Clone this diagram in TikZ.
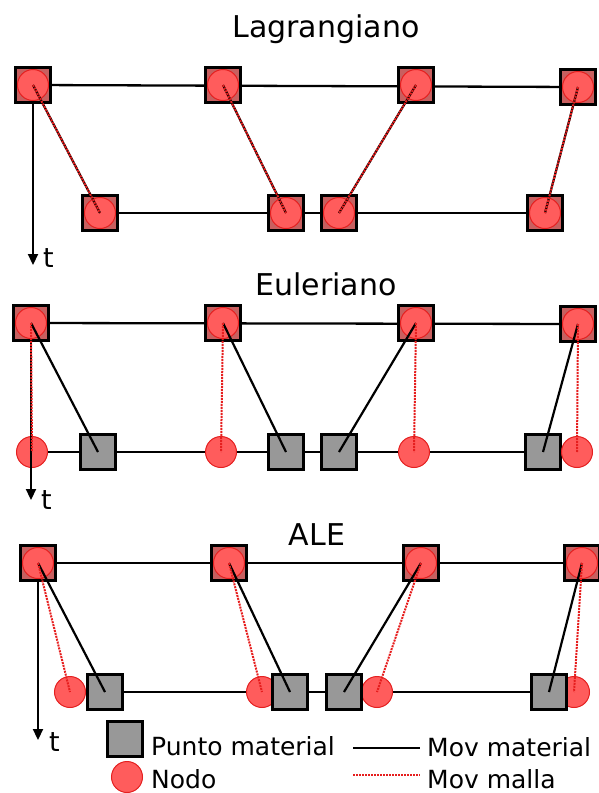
\documentclass[tikz,border=0pt]{standalone}
\usepackage{fontspec}
\setmainfont{DejaVu Sans}
\usetikzlibrary{arrows.meta,backgrounds}
\definecolor{nodefill}{RGB}{255,92,92}
\definecolor{nodeedge}{RGB}{228,32,32}
\definecolor{matfill}{RGB}{152,152,152}
\definecolor{cornerfill}{RGB}{200,95,95}
\definecolor{meshred}{RGB}{230,30,30}

\begin{document}
\begin{tikzpicture}[x=1pt,y=-1pt,
  matsq/.style={rectangle,draw=black,line width=2.4pt,fill=matfill,minimum size=35pt,inner sep=0pt},
  topsq/.style={matsq,fill=cornerfill},
  nodo/.style={circle,draw=nodeedge,line width=1pt,fill=nodefill,minimum size=31pt,inner sep=0pt},
  gridline/.style={line width=2.3pt,black},
  matline/.style={line width=2.2pt,black},
  meshline/.style={line width=2pt,meshred,densely dotted},
  timeax/.style={line width=2.2pt,-{Triangle[length=11pt,width=10pt]}},
  title/.style={font=\fontsize{30}{36}\selectfont,anchor=base,inner sep=0pt},
  tlabel/.style={font=\fontsize{27}{32}\selectfont,anchor=base west,inner sep=0pt},
  lbl/.style={font=\fontsize{25}{30}\selectfont,anchor=base west,inner sep=0pt}]

\useasboundingbox (0,0) rectangle (598,793);

% ---------------- Lagrangiano ----------------
\node[title] (tL) at (326,37) {Lagrangiano};

\foreach \n/\x/\y in {1/33/85,2/223/85,3/416/85,4/578/87,5/100/213,6/286/213,7/339/213,8/545/213}{
  \node[topsq] (Ls\n) at (\x,\y) {};
  \node[nodo] (Lc\n) at (\x,\y) {};
}
\begin{pgfonlayer}{background}
  \draw[gridline] (Ls1.center) -- (Ls4.center);
  \draw[gridline] (Ls5.center) -- (Ls8.center);
\end{pgfonlayer}
\foreach \a/\b in {1/5,2/6,3/7,4/8}{
  \draw[matline] (Lc\a.center) -- (Lc\b.center);
  \draw[meshline] (Lc\a.center) -- (Lc\b.center);
}
\coordinate (Lt) at (33,265);
\draw[timeax] (Ls1.south) -- (Lt);
\node[tlabel] (Ltl) at (43,267) {t};

% ---------------- Euleriano ----------------
\node[title] (tE) at (326,295) {Euleriano};

\foreach \n/\x/\y in {1/31/323,2/223/323,3/416/323,4/578/324}{
  \node[topsq] (Es\n) at (\x,\y) {};
  \node[nodo] (Ec\n) at (\x,\y) {};
}
\foreach \n/\x in {1/98,2/286,3/339,4/543}{
  \node[matsq] (Em\n) at (\x,452) {};
}
\foreach \n/\x in {1/32,2/221,3/414,4/577}{
  \node[nodo] (En\n) at (\x,452) {};
}
\begin{pgfonlayer}{background}
  \draw[gridline] (Es1.center) -- (Es4.center);
  \draw[gridline] (En1.center) -- (Em4.center);
\end{pgfonlayer}
\coordinate (Et) at (31,500);
\draw[timeax] (Es1.south) -- (Et);
\foreach \n in {1,2,3,4}{
  \draw[matline] (Ec\n.center) -- (Em\n.center);
  \draw[meshline] (Ec\n.center) -- (En\n.center);
}
\node[tlabel] (Etl) at (41,509) {t};

% ---------------- ALE ----------------
\node[title] (tA) at (317,545) {ALE};

\foreach \n/\x in {1/38,2/229,3/421,4/582}{
  \node[topsq] (As\n) at (\x,563) {};
  \node[nodo] (Ac\n) at (\x,563) {};
}
\foreach \n/\x in {1/70,2/262,3/377,4/574}{
  \node[nodo] (An\n) at (\x,692) {};
}
\foreach \n/\x in {1/105,2/290,3/344,4/549}{
  \node[matsq] (Am\n) at (\x,692) {};
}
\begin{pgfonlayer}{background}
  \draw[gridline] (As1.center) -- (As4.center);
  \draw[gridline] (An1.center) -- (An4.center);
\end{pgfonlayer}
\coordinate (At) at (38,740);
\draw[timeax] (As1.south) -- (At);
\foreach \n in {1,2,3,4}{
  \draw[matline] (Ac\n.center) -- (Am\n.center);
  \draw[meshline] (Ac\n.center) -- (An\n.center);
}
\node[tlabel] (Atl) at (49,751) {t};

% ---------------- Leyenda ----------------
\node[matsq] (kSq) at (125,739) {};
\node[nodo] (kCi) at (127,777) {};
\node[lbl] (kSqT) at (151,755) {Punto material};
\node[lbl] (kCiT) at (151,788) {Nodo};
\coordinate (kM1) at (353,748);
\coordinate (kM2) at (420,748);
\coordinate (kR1) at (353,775);
\coordinate (kR2) at (420,775);
\draw[matline] (kM1) -- (kM2);
\draw[meshline] (kR1) -- (kR2);
\node[lbl] (kMT) at (427,756) {Mov material};
\node[lbl] (kRT) at (427,788) {Mov malla};
\end{tikzpicture}
\end{document}
